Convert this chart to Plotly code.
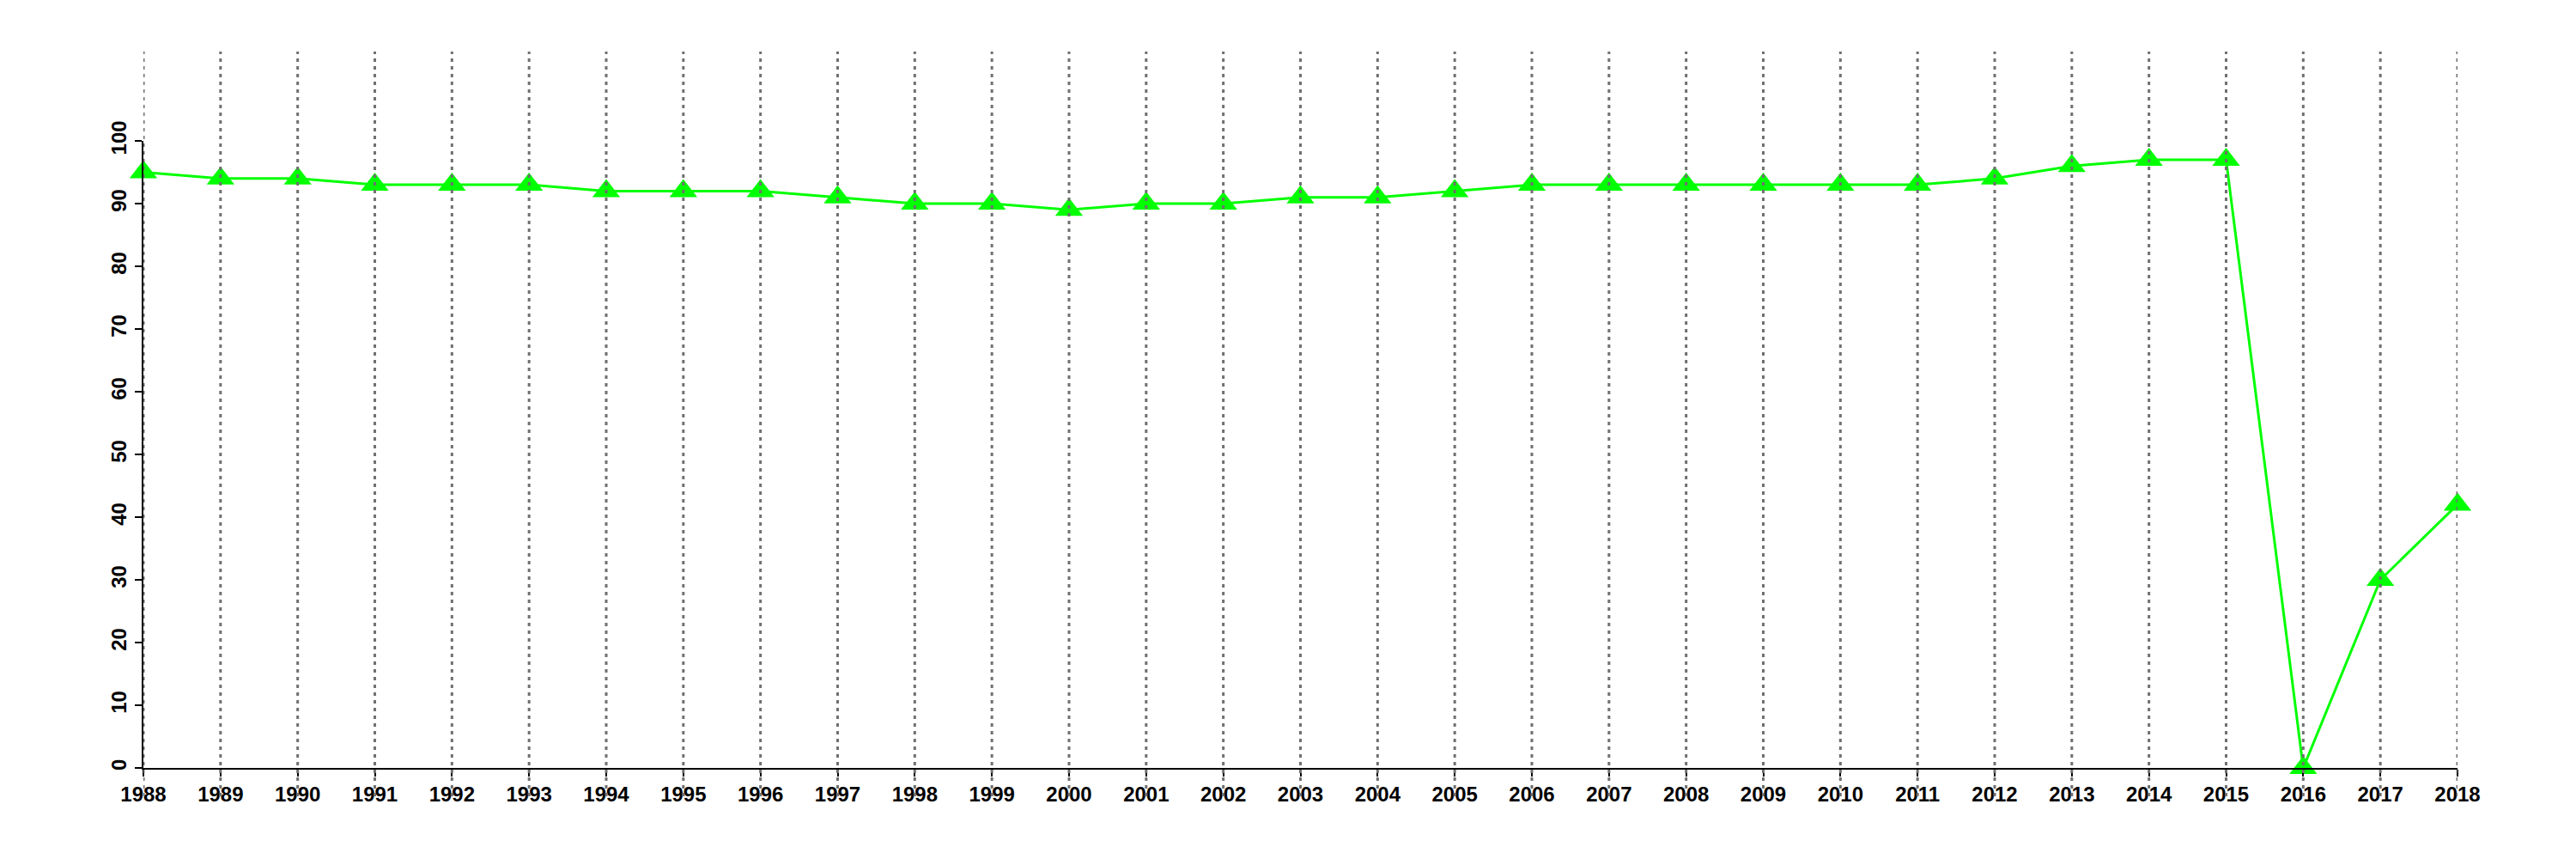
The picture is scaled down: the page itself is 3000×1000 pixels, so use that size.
import plotly.graph_objects as go

years = list(range(1988, 2019))
values = [95, 94, 94, 93, 93, 93, 92, 92, 92, 91, 90, 90, 89, 90, 90, 91, 91,
          92, 93, 93, 93, 93, 93, 93, 94, 96, 97, 97, 0, 30, 42]
y_ticks = list(range(0, 101, 10))

W, H = 3000, 1000
off = 8  # default page body margin
m_left, m_right, m_top, m_bottom = 167 - off, 138 + off, 164 - off, 106 + off
plot_h = H - m_top - m_bottom
axis_px = H - m_bottom + off
grid_top = (axis_px - 60) / plot_h
grid_bottom = -(927 - axis_px) / plot_h

fig = go.Figure()
fig.add_trace(go.Scatter(
    x=years, y=values, mode="lines+markers",
    line=dict(color="#00FF00", width=3),
    marker=dict(symbol="triangle-up", size=28, color="#00FF00", line=dict(width=0)),
    cliponaxis=False, showlegend=False,
))

for yr in years:
    fig.add_shape(type="line", xref="x", yref="paper", x0=yr, x1=yr,
                  y0=grid_bottom, y1=grid_top, layer="above",
                  line=dict(color="#707070", width=3, dash="4px,5px"))

font = dict(family="Liberation Sans, Arial, sans-serif", size=24, color="black", weight="bold")

fig.update_layout(
    width=W, height=H,
    margin=dict(l=m_left, r=m_right, t=m_top, b=m_bottom, pad=0),
    paper_bgcolor="white", plot_bgcolor="white",
    font=font,
    xaxis=dict(range=[years[0], years[-1]], tickmode="array", tickvals=years,
               ticktext=[str(y) for y in years], showgrid=False, zeroline=False,
               showline=True, linecolor="black", linewidth=2,
               ticks="outside", ticklen=8, tickwidth=2, tickcolor="black",
               tickfont=font),
    yaxis=dict(range=[0, 100], tickmode="array", tickvals=y_ticks,
               showgrid=False, zeroline=False,
               showline=True, linecolor="black", linewidth=2,
               ticks="outside", ticklen=8, tickwidth=2, tickcolor="black",
               tickangle=-90, tickfont=font),
)

fig.write_html("out.html")
